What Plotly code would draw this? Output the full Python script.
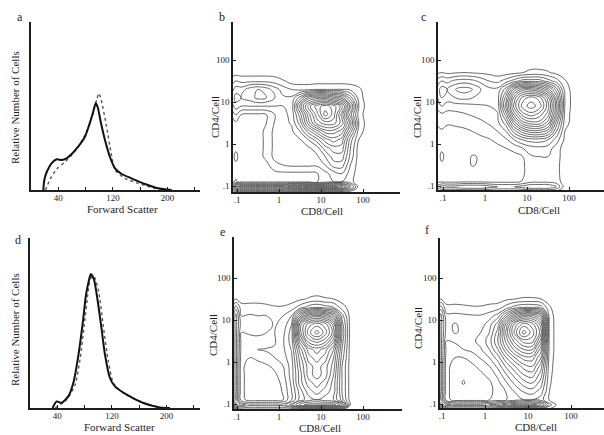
import plotly.graph_objects as go

W, H = 604, 435
FONT = "Liberation Serif"
INK = "#1e1e1e"

# ---------------- Histogram data (Forward scatter, relative cell number) ----------------
A_SOLID_X = [18, 19.5, 23, 30, 37.6, 45, 52, 59.6, 69, 79, 86, 91, 94.7, 97.6, 102.5, 108.3, 115.6, 123, 132.8, 147, 167, 186, 206]
A_SOLID_Y = [0, 10, 18, 26.7, 30.7, 30, 31.7, 36, 43.3, 53.3, 66.7, 78, 86.7, 83, 66.7, 50, 33, 21.7, 16, 11.7, 6, 1.7, 0]
A_DOT_X = [21, 30, 40, 50, 59.6, 69, 79, 88.8, 96, 99.6, 104, 110.7, 117, 123, 137.6, 157, 181, 200]
A_DOT_Y = [0, 13.3, 22.7, 28, 35, 43, 55, 71.7, 90, 96.7, 86.7, 63, 38, 20, 11.7, 6.7, 1.7, 0]

D_SOLID_X = [33, 39, 46, 56, 64, 71, 77.5, 82, 86.5, 89, 93.7, 98.5, 104, 109.8, 117, 124.4, 141.6, 166, 190, 205]
D_SOLID_Y = [0, 6.6, 5, 11.6, 26.6, 53.3, 86.6, 113.3, 128.3, 134, 128.3, 110, 83.3, 53.3, 30, 21.6, 13.3, 5, 0.6, 0]
D_DOT_X = [36.6, 53.7, 66, 73.5, 79.5, 84.5, 89, 93.7, 100.5, 107, 114.7, 122, 136.6, 166, 195]
D_DOT_Y = [0, 8.3, 23, 50, 83, 113, 130, 131.6, 116.6, 83.3, 46.6, 25, 15, 5, 0]

FSC_TICKS = [0, 40, 80, 120, 160, 200, 240]
FSC_LABELS = ["", "40", "", "120", "", "200", ""]

# ---------------- Contour data: log10 grid positions and contour-level depth ----------------
LOG_CD8 = [-1.13, -1.03, -0.9, -0.7, -0.5, -0.3, -0.1, 0.1, 0.3, 0.5, 0.7, 0.9, 1.1, 1.3, 1.5, 1.7, 1.9, 2.1]
LOG_CD4 = [-1.14, -1.02, -0.9, -0.7, -0.5, -0.3, -0.1, 0.1, 0.3, 0.5, 0.7, 0.9, 1.1, 1.3, 1.5, 1.7, 1.9]
LOG_TICKS = [0.1, 1, 10, 100]
LOG_LABELS = [".1", "1", "10", "100"]

Z0 = [0] * 18

LEVELS_B = [
    Z0,
    [2, 6, 6, 6, 6, 6, 6, 6, 7, 7, 8, 8, 8, 8, 7, 4, 0, 0],
    [0.3, 0.6, 0.3, 0.3, 0.3, 0.3, 0.3, 0.3, 0.3, 0.3, 0.3, 0.4, 1, 1.5, 1.5, 0.8, 0, 0],
    [0, 0.3, 0, 0, 0, 0, 0.2, 0.3, 0.3, 0.3, 0.3, 0.4, 1.2, 2, 2.5, 1, 0, 0],
    [0, 0.3, 0, 0, 0, 0.2, 1.2, 1.5, 1.7, 1.7, 1.7, 1.7, 2.5, 4, 4, 1.5, 0, 0],
    [0, 0.8, 0, 0, 0, 0.8, 1.8, 2.2, 2.2, 2.2, 2.2, 2.3, 3.5, 5, 5, 2.2, 0, 0],
    [0, 0.3, 0, 0, 0, 0.8, 1.8, 2.2, 2.2, 2.2, 2.3, 3, 5, 6, 6, 2.5, 0, 0],
    [0, 0.3, 0, 0, 0, 0.8, 1.8, 2.2, 2.2, 2.4, 3.5, 5, 7, 8, 7, 3, 0.5, 0],
    [0, 0.3, 0, 0, 0, 0.8, 1.8, 2.2, 2.3, 3.5, 6, 8, 10, 10, 9, 5, 1, 0],
    [0, 0.3, 0, 0, 0, 0.5, 1.6, 2.2, 2.6, 5, 9, 12, 13, 13, 11, 7, 1.5, 0],
    [0.5, 1.5, 0.5, 0.3, 0.3, 0.5, 1.5, 2.2, 2.8, 6, 10, 13, 16, 14, 10, 5, 1, 0],
    [2, 3, 2.5, 2.5, 2.5, 2.5, 2.5, 2.5, 2.8, 8, 12, 14, 15, 14, 12, 7, 1.5, 0],
    [2.5, 4, 3.5, 4, 4.8, 4.5, 3.5, 2.7, 2.7, 5, 8, 9, 9, 8, 7, 4, 1, 0],
    [2, 3, 3, 4, 4.5, 4, 3, 2, 1.5, 1.2, 1.2, 1.5, 1.5, 1.5, 1.5, 1.2, 0.7, 0],
    [1, 1.5, 1.2, 1.2, 1.2, 1.2, 1, 0.6, 0, 0, 0, 0, 0, 0, 0, 0, 0, 0],
    Z0,
    Z0,
]

LEVELS_C = [
    Z0,
    [2, 3, 3, 3, 3.5, 3.5, 3.5, 3, 2.5, 2.5, 2.5, 3, 3.5, 3.5, 3.5, 2.5, 0, 0],
    [0.3, 0.4, 0.3, 0.3, 0.4, 0.4, 0.4, 0.3, 0.3, 0.3, 0.3, 0.6, 1.3, 1.3, 1.3, 1, 0, 0],
    [0, 0.3, 0, 0, 0, 0, 0, 0, 0, 0, 0, 0.3, 1.3, 1.3, 1.3, 0.8, 0, 0],
    [0, 0.3, 0, 0, 0, 0.6, 0.3, 0, 0, 0, 0, 0.3, 1.3, 1.4, 1.3, 0.8, 0, 0],
    [0, 0.8, 0, 0, 0, 0.6, 0.4, 0, 0, 0, 0.2, 0.5, 1.4, 1.5, 1.5, 0.9, 0, 0],
    [0, 0.3, 0, 0, 0, 0, 0, 0, 0.2, 0.5, 0.8, 1.5, 2, 2.2, 2, 1, 0, 0],
    [0, 0.3, 0, 0, 0, 0, 0.2, 0.4, 0.8, 1.3, 2.5, 3.5, 4, 4, 3.5, 2, 0.3, 0],
    [0.3, 0.4, 0.2, 0.2, 0.3, 0.5, 0.8, 1.1, 1.5, 2.5, 5, 7, 8, 8, 7, 3.5, 0.5, 0],
    [0.6, 0.8, 0.6, 0.7, 0.8, 1, 1.3, 1.6, 2.2, 4, 8, 11, 12, 12, 10, 5, 1, 0],
    [1.1, 1.3, 1.1, 1.2, 1.4, 1.6, 1.8, 2, 2.4, 6, 11, 14, 15, 14, 12, 7, 1.2, 0],
    [1.8, 2.5, 2, 2, 2, 2.2, 2.4, 2.5, 2.8, 8, 13, 16, 17, 16, 13, 8, 1.5, 0],
    [2.5, 3.5, 3, 3.5, 3.8, 3.5, 3, 2.8, 3, 7, 12, 15, 16, 15, 12, 7, 1.5, 0],
    [3, 4, 3.5, 4.5, 5, 4.5, 3.5, 2.8, 2.8, 5, 9, 11, 11, 10, 8, 5, 1.2, 0],
    [2, 2.5, 2.2, 2.8, 3, 2.8, 2.2, 1.5, 1.2, 2, 3, 4, 4, 4, 3, 2, 0.6, 0],
    [0.3, 0.5, 0.3, 0.4, 0.5, 0.4, 0.3, 0.2, 0, 0, 0.2, 0.5, 0.8, 0.8, 0.6, 0.2, 0, 0],
    Z0,
]

LEVELS_E = [
    Z0,
    [3, 6, 4, 3, 3, 3, 3, 3, 5, 8, 9, 9, 9, 9, 7, 0.5, 0, 0],
    [2, 5, 1, 0, 0, 0, 0, 0.5, 2.5, 5, 6, 6.5, 6, 5.5, 3, 0, 0, 0],
    [2, 5, 0.8, 0, 0, 0, 0, 0.6, 2.5, 5, 7, 8, 7, 6, 2.5, 0, 0, 0],
    [2, 5, 0.8, 0, 0, 0, 0, 0.8, 2.8, 6, 8, 9, 8, 6, 2.5, 0, 0, 0],
    [2, 5, 0.8, 0, 0, 0, 0.3, 1.2, 3, 6, 9, 10, 9, 6.5, 2.5, 0, 0, 0],
    [2, 5, 0.8, 0, 0, 0.3, 0.8, 1.5, 3, 6.5, 9, 10, 9, 7, 2.5, 0, 0, 0],
    [2, 5, 1, 0.5, 0.8, 1.2, 1.5, 2, 3.3, 7, 10, 11, 10, 7.5, 3, 0, 0, 0],
    [2, 5, 1.2, 1, 1.6, 1.6, 1.6, 2.3, 3.6, 8, 11, 12, 11, 8.5, 3.5, 0, 0, 0],
    [2, 5, 1.3, 1.2, 1, 0.8, 1.4, 2.4, 4, 10, 14, 15, 14, 11, 4, 0, 0, 0],
    [2, 5, 1.5, 1.6, 1.8, 1.5, 1.5, 2.2, 4, 12, 16, 18, 16, 13, 4.5, 0, 0, 0],
    [2, 5, 2, 2.2, 2.2, 1.8, 1.4, 1.8, 3.5, 12, 15, 16, 15, 12, 4, 0, 0, 0],
    [2, 5, 1.5, 1.6, 1.5, 1.5, 1.5, 1.5, 2.5, 7, 10, 11, 10, 8, 3, 0, 0, 0],
    [1, 3, 1, 1, 1, 0.8, 0.6, 0.6, 1, 2, 3, 3.5, 3, 2.5, 1, 0, 0, 0],
    [0, 0.5, 0, 0, 0, 0, 0, 0, 0, 0.3, 0.6, 0.8, 0.6, 0.5, 0, 0, 0, 0],
    Z0,
    Z0,
]

LEVELS_F = [
    Z0,
    [3, 6, 5, 4, 4, 4, 4, 4.5, 5, 6, 7, 7, 7, 6, 2, 0, 0, 0],
    [2, 5, 1, 0, 0, 0, 0, 0.5, 1, 1.5, 2, 2.5, 2.5, 2, 0.4, 0, 0, 0],
    [2, 5, 0.8, 0, 0, 0, 0, 0.3, 0.8, 1.6, 2.6, 3.6, 4, 3, 0.5, 0, 0, 0],
    [2, 5, 0.8, 0, 0.6, 0, 0, 0.3, 1.2, 2.4, 3.8, 5, 5.5, 4, 0.6, 0, 0, 0],
    [2, 5, 0.8, 0, 0.3, 0, 0.3, 0.8, 1.8, 3.5, 5, 6.5, 7, 5, 0.7, 0, 0, 0],
    [2, 5, 0.8, 0.1, 0, 0.3, 0.8, 1.5, 2.8, 4.8, 6.5, 8, 8.5, 6, 0.8, 0, 0, 0],
    [2, 5, 1, 0.5, 0.5, 0.9, 1.6, 2.5, 4, 6.5, 8.5, 10, 10, 7.5, 0.9, 0, 0, 0],
    [2, 5, 1.3, 1.2, 1.5, 1.8, 2.4, 3.5, 5.5, 8.5, 11, 12.5, 12.5, 9, 1, 0, 0, 0],
    [2, 5, 1.5, 1.6, 2, 2.3, 2.8, 4, 6.5, 10, 13, 15, 15, 11, 1, 0, 0, 0],
    [2, 5, 2, 2.6, 2.3, 2.3, 2.5, 3.5, 6, 11, 15, 18, 16, 13, 1, 0, 0, 0],
    [2, 5, 2.2, 2.6, 2.2, 2, 2, 3, 5, 10, 14, 16, 15, 12, 1, 0, 0, 0],
    [2, 5, 1.8, 1.8, 1.7, 1.6, 1.6, 2, 3, 6, 9, 11, 11, 9, 0.9, 0, 0, 0],
    [1, 3, 0.8, 0.8, 0.7, 0.6, 0.6, 0.8, 1, 2, 3, 3.5, 3.5, 3, 0.6, 0, 0, 0],
    [0, 0.5, 0, 0, 0, 0, 0, 0, 0, 0.3, 0.5, 0.6, 0.6, 0.5, 0.2, 0, 0, 0],
    Z0,
    Z0,
]

# ---------------- Layout helpers (pixel boxes -> paper domains) ----------------
def dom_x(x0, x1):
    return [x0 / W, x1 / W]

def dom_y(top, bottom):
    return [1 - bottom / H, 1 - top / H]

def px(x):
    return x / W

def py(y):
    return 1 - y / H

fig = go.Figure()
layout = dict(
    width=W, height=H, margin=dict(l=0, r=0, t=0, b=0),
    paper_bgcolor="white", plot_bgcolor="white", showlegend=False,
    font=dict(family=FONT, color=INK, size=9),
)

common_axis = dict(showline=True, linecolor=INK, linewidth=1.5, showgrid=False,
                   zeroline=False, mirror=False, tickcolor=INK, ticklen=3,
                   tickwidth=1, tickfont=dict(family=FONT, size=9, color=INK))

annotations = []

def note(text, xy, size, angle=0):
    annotations.append(dict(text=text, x=px(xy[0]), y=py(xy[1]), xref="paper", yref="paper",
                            xanchor="center", yanchor="middle", showarrow=False, textangle=angle,
                            font=dict(size=size, family=FONT, color=INK)))

def add_hist(idx, box, yr, solid_x, solid_y, dot_x, dot_y, letter, letter_xy, xt_xy, yt_xy):
    x0, x1, top, bottom = box
    xa, ya = f"xaxis{idx}", f"yaxis{idx}"
    span = (x1 - x0) / 0.683
    layout[xa] = dict(common_axis, domain=dom_x(x0, x1), range=[0, span], anchor=f"y{idx}",
                      tickmode="array", tickvals=FSC_TICKS, ticktext=FSC_LABELS, ticks="inside",
                      ticklabelstandoff=-2)
    layout[ya] = dict(common_axis, domain=dom_y(top, bottom), range=[0, yr], anchor=f"x{idx}",
                      showticklabels=False, ticks="")
    fig.add_trace(go.Scatter(x=dot_x, y=dot_y, xaxis=f"x{idx}", yaxis=f"y{idx}", mode="lines",
                             line=dict(color="#555", width=1.4, dash="dot", shape="spline", smoothing=0.6)))
    fig.add_trace(go.Scatter(x=solid_x, y=solid_y, xaxis=f"x{idx}", yaxis=f"y{idx}", mode="lines",
                             line=dict(color="#111", width=2, shape="spline", smoothing=0.6)))
    note(letter, letter_xy, 12)
    note("Forward Scatter", xt_xy, 11)
    note("Relative Number of Cells", yt_xy, 11, -90)

def add_contour(idx, box, one_x, dec_x, one_y, dec_y, levels, letter, letter_xy, xt_xy, yt_xy):
    x0, x1, top, bottom = box
    xa, ya = f"xaxis{idx}", f"yaxis{idx}"
    lx0 = (x0 - one_x) / dec_x
    lx1 = (x1 - one_x) / dec_x
    ly0 = (one_y - bottom) / dec_y
    ly1 = (one_y - top) / dec_y
    layout[xa] = dict(common_axis, domain=dom_x(x0, x1), type="log", range=[lx0, lx1], anchor=f"y{idx}",
                      tickmode="array", tickvals=LOG_TICKS, ticktext=LOG_LABELS, ticks="inside",
                      ticklabelstandoff=-2)
    layout[ya] = dict(common_axis, domain=dom_y(top, bottom), type="log", range=[ly0, ly1], anchor=f"x{idx}",
                      tickmode="array", tickvals=LOG_TICKS, ticktext=LOG_LABELS, ticks="inside")
    fig.add_trace(go.Contour(
        x=[10 ** v for v in LOG_CD8], y=[10 ** v for v in LOG_CD4], z=levels,
        xaxis=f"x{idx}", yaxis=f"y{idx}", showscale=False, hoverinfo="skip",
        contours=dict(coloring="none", start=0.5, end=20.5, size=1),
        line=dict(color="#555555", width=0.9, smoothing=1.3),
    ))
    note(letter, letter_xy, 12)
    note("CD8/Cell", xt_xy, 11)
    note("CD4/Cell", yt_xy, 11, -90)

# panel a / d : histograms
add_hist("", (31, 200, 22, 190), 168, A_SOLID_X, A_SOLID_Y, A_DOT_X, A_DOT_Y,
         "a", (20, 17), (122, 209), (15, 108))
add_hist(4, (30, 200, 238, 408), 170, D_SOLID_X, D_SOLID_Y, D_DOT_X, D_DOT_Y,
         "d", (18, 240), (120, 427), (15, 330))

# panels b, c, e, f : contour plots
add_contour(2, (233, 400, 22, 192), 279, 42, 144, 42, LEVELS_B, "b", (222, 17), (322, 211), (215, 117))
add_contour(3, (438, 604, 22, 190), 485, 42, 144, 42, LEVELS_C, "c", (423, 17), (539, 210), (417, 117))
add_contour(5, (234, 402, 237, 409), 279, 42, 362, 42, LEVELS_E, "e", (222, 232), (320, 428), (213, 335))
add_contour(6, (440, 604, 238, 408), 485, 43, 362, 42, LEVELS_F, "f", (427, 230), (536, 427), (418, 328))

layout["annotations"] = annotations
fig.update_layout(**layout)
fig.write_html("out.html", config={"displayModeBar": False},
               post_script="document.body.style.margin='0';document.body.style.overflow='hidden';")
